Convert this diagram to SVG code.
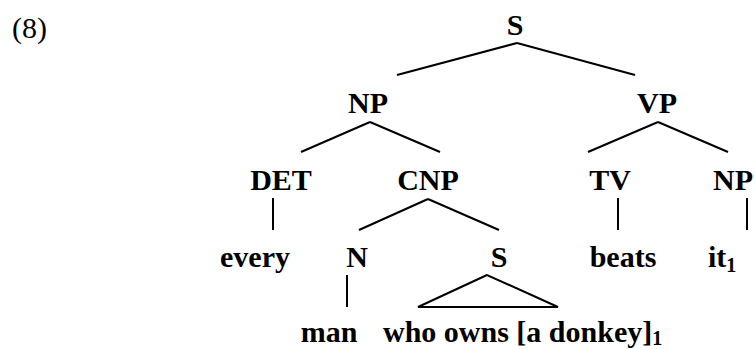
<svg xmlns="http://www.w3.org/2000/svg" width="755" height="349" viewBox="0 0 755 349">
<style>
text{font-family:"Liberation Serif","Times New Roman",serif;font-size:30px;fill:#000}
.b{font-weight:bold;text-anchor:middle}
.s{font-size:20px}
line,polygon{stroke:#000;stroke-width:2;fill:none}
</style>
<rect width="755" height="349" fill="#fff"/>
<text x="12" y="38">(8)</text>
<g id="connectors">
<line x1="517" y1="43" x2="397" y2="75"/>
<line x1="517" y1="43" x2="635" y2="75"/>
<line x1="370" y1="122" x2="301" y2="152"/>
<line x1="370" y1="122" x2="440" y2="152"/>
<line x1="658" y1="122" x2="588" y2="152"/>
<line x1="658" y1="122" x2="728" y2="152"/>
<line x1="273" y1="198" x2="273" y2="230"/>
<line x1="428" y1="199" x2="359" y2="230"/>
<line x1="428" y1="199" x2="499" y2="230"/>
<line x1="618" y1="198" x2="618" y2="230"/>
<line x1="747" y1="198" x2="747" y2="230"/>
<line x1="347" y1="275" x2="347" y2="307"/>
<polygon points="487,275 418,307 558,307"/>
</g>
<g id="n_S"><text class="b" x="515" y="35">S</text></g>
<g id="n_NP"><text class="b" x="368" y="113">NP</text></g>
<g id="n_VP"><text class="b" x="657" y="113">VP</text></g>
<g id="n_DET"><text class="b" x="281" y="190">DET</text></g>
<g id="n_CNP"><text class="b" x="428" y="190">CNP</text></g>
<g id="n_TV"><text class="b" x="610" y="190">TV</text></g>
<g id="n_NP2"><text class="b" x="733" y="190">NP</text></g>
<g id="n_every"><text class="b" x="255" y="267">every</text></g>
<g id="n_N"><text class="b" x="357" y="267">N</text></g>
<g id="n_S2"><text class="b" x="499" y="267">S</text></g>
<g id="n_beats"><text class="b" x="623" y="267">beats</text></g>
<g id="n_it"><text class="b" x="708" y="267" style="text-anchor:start">it<tspan class="s" dy="5">1</tspan></text></g>
<g id="n_man"><text class="b" x="329" y="342">man</text></g>
<g id="n_who"><text class="b" x="383" y="342" style="text-anchor:start">who owns [a donkey]<tspan class="s" dy="3">1</tspan></text></g>
</svg>
